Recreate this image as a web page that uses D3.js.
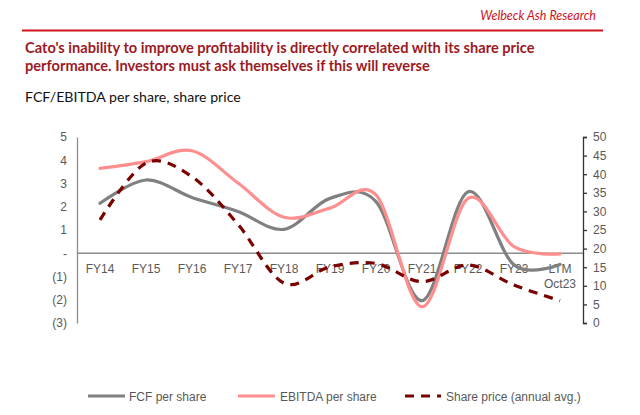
<!DOCTYPE html>
<html><head><meta charset="utf-8">
<script src="https://cdn.jsdelivr.net/npm/d3@7"></script>
<style>
body{margin:0;background:#fff;}
svg{display:block;}
</style></head>
<body>
<svg id="c" width="640" height="415"></svg>
<script>
const categories = ["FY14","FY15","FY16","FY17","FY18","FY19","FY20","FY21","FY22","FY23","LTM Oct23"];
const fcfPerShare    = [2.15, 3.15, 2.40, 1.80, 1.03, 2.36, 2.22, -2.04, 2.65, -0.50, -0.48];
const ebitdaPerShare = [3.65, 3.94, 4.41, 3.02, 1.55, 1.94, 2.51, -2.30, 2.36, 0.28, -0.03];
const sharePrice     = [27.7, 43.0, 39.3, 26.5, 10.7, 15.1, 16.0, 11.1, 15.6, 10.2, 6.0];
const leftTicks  = [5,4,3,2,1,0,-1,-2,-3];
const rightTicks = [0,5,10,15,20,25,30,35,40,45,50];
const legendLabels = ["FCF per share","EBITDA per share","Share price (annual avg.)"];

const svg = d3.select("#c");
const axisFont = "'Liberation Sans', Arial, sans-serif";
const textFont = "Lato, 'Open Sans', sans-serif";

// Header
svg.append("text").attr("x",596).attr("y",20).attr("text-anchor","end")
  .attr("font-family",textFont).attr("font-style","italic").attr("font-size",12.5)
  .attr("fill","#d0121b").text("Welbeck Ash Research");
svg.append("line").attr("x1",22).attr("x2",603).attr("y1",30.5).attr("y2",30.5)
  .attr("stroke","#d0121b").attr("stroke-width",2);

function fitText(sel, w){
  const n = sel.node(); const len = n.getComputedTextLength();
  const fs = parseFloat(sel.attr("font-size"));
  sel.attr("font-size", fs*w/len);
}
const t1 = svg.append("text").attr("x",25).attr("y",53).attr("font-family",textFont)
  .attr("font-weight","bold").attr("font-size",13).attr("fill","#9c1a1f")
  .text("Cato's inability to improve profitability is directly correlated with its share price");
fitText(t1, 510);
const t2 = svg.append("text").attr("x",25).attr("y",71).attr("font-family",textFont)
  .attr("font-weight","bold").attr("font-size",t1.attr("font-size")).attr("fill","#9c1a1f")
  .text("performance. Investors must ask themselves if this will reverse");
const t3 = svg.append("text").attr("x",25).attr("y",102).attr("font-family",textFont)
  .attr("font-size",13).attr("fill","#111")
  .text("FCF/EBITDA per share, share price");
fitText(t3, 216);

// Scales
const x = d3.scaleBand().domain(categories).range([77,583]).padding(0);
const cx = d => x(d) + x.bandwidth()/2;
const yL = d3.scaleLinear().domain([-3,5]).range([323,137]);
const yR = d3.scaleLinear().domain([0,50]).range([323,137]);

// Left axis (no ticks)
const gL = svg.append("g").attr("transform","translate(77,0)")
  .call(d3.axisLeft(yL).tickValues(leftTicks).tickSize(0).tickPadding(10)
    .tickFormat(v => v===0 ? "-" : (v<0 ? "("+(-v)+")" : String(v))));
gL.select(".domain").attr("stroke","#8c8c8c").attr("stroke-width",1.3);
gL.selectAll("text").attr("font-family",axisFont).attr("font-size",12).attr("fill","#595959");

// Right axis
const gR = svg.append("g").attr("transform","translate(583,0)")
  .call(d3.axisRight(yR).tickValues(rightTicks).tickSize(4).tickSizeOuter(4).tickPadding(6));
gR.select(".domain").attr("stroke","#333").attr("stroke-width",1.3);
gR.selectAll(".tick line").attr("stroke","#333").attr("stroke-width",1.3);
gR.selectAll("text").attr("font-family",axisFont).attr("font-size",12).attr("fill","#595959");

// Zero line
svg.append("line").attr("x1",77).attr("x2",583).attr("y1",yL(0)).attr("y2",yL(0))
  .attr("stroke","#8c8c8c").attr("stroke-width",1.3);

// X labels
const xl = svg.append("g").selectAll("text").data(categories).join("text")
  .attr("x",d=>cx(d)).attr("y",273).attr("text-anchor","middle")
  .attr("font-family",axisFont).attr("font-size",12).attr("fill","#595959");
xl.each(function(d){
  const parts = d.split(" ");
  const s = d3.select(this);
  parts.forEach((p,i)=> s.append("tspan").attr("x",cx(d)).attr("dy", i===0?0:15).text(p));
});

// Lines
const curve = d3.curveCardinal.tension(0);
const lineL = d3.line().x((d,i)=>cx(categories[i])).y(d=>yL(d)).curve(curve);
const lineR = d3.line().x((d,i)=>cx(categories[i])).y(d=>yR(d)).curve(curve);

svg.append("path").attr("d",lineL(fcfPerShare)).attr("fill","none")
  .attr("stroke","#808080").attr("stroke-width",3.2).attr("stroke-linecap","round");
svg.append("path").attr("d",lineL(ebitdaPerShare)).attr("fill","none")
  .attr("stroke","#ff8f8f").attr("stroke-width",3.2).attr("stroke-linecap","round");
svg.append("path").attr("d",lineR(sharePrice)).attr("fill","none")
  .attr("stroke","#7b0000").attr("stroke-width",3.2).attr("stroke-dasharray","9,7");

// Legend
const leg = [
  {x1:88,x2:125,tx:129,color:"#808080",dash:null},
  {x1:238,x2:275,tx:280,color:"#ff8f8f",dash:null},
  {x1:405,x2:441,tx:446,color:"#7b0000",dash:"9,7"}
];
leg.forEach((l,i)=>{
  svg.append("line").attr("x1",l.x1).attr("x2",l.x2).attr("y1",396).attr("y2",396)
    .attr("stroke",l.color).attr("stroke-width",3.2).attr("stroke-dasharray",l.dash);
  svg.append("text").attr("x",l.tx).attr("y",400.5).attr("font-family",axisFont)
    .attr("font-size",12).attr("fill","#595959").text(legendLabels[i]);
});
</script>
</body></html>
